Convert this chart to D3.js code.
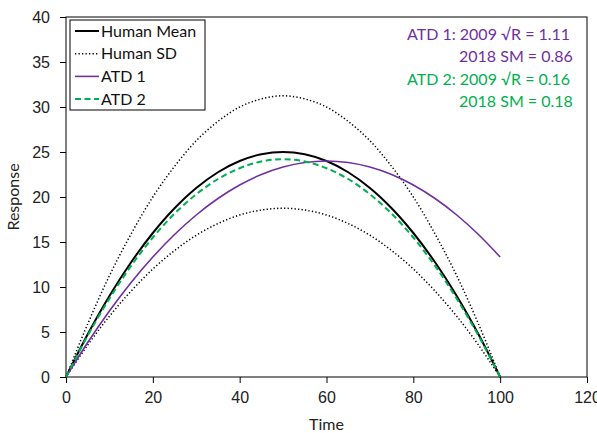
<!DOCTYPE html>
<html lang="en">
<head>
<meta charset="UTF-8">
<title>Response over time</title>
<script src="https://cdn.jsdelivr.net/npm/d3@7"></script>
<style>
  body { margin: 0; background: #fff; }
  svg { font-family: 'Lato', 'Open Sans', sans-serif; }
  .axis text { font-size: 16px; fill: #222; }
  .axis path, .axis line { stroke: #000; }
</style>
</head>
<body>
<svg id="chart" width="597" height="433"></svg>
<script>
  // values, every 5 time units
  var times = [0, 5, 10, 15, 20, 25, 30, 35, 40, 45, 50, 55, 60, 65, 70, 75, 80, 85, 90, 95, 100];
  var humanMean = [0, 4.75, 9, 12.75, 16, 18.75, 21, 22.75, 24, 24.75, 25, 24.75, 24, 22.75, 21, 18.75, 16, 12.75, 9, 4.75, 0];
  var humanSdUpper = [0, 5.9, 11.25, 15.9, 20, 23.4, 26.25, 28.4, 30, 30.9, 31.25, 30.9, 30, 28.4, 26.25, 23.4, 20, 15.9, 11.25, 5.9, 0];
  var humanSdLower = [0, 3.55, 6.75, 9.55, 12, 14.05, 15.75, 17.05, 18, 18.55, 18.75, 18.55, 18, 17.05, 15.75, 14.05, 12, 9.55, 6.75, 3.55, 0];
  var atd1 = [0, 3.83, 7.33, 10.5, 13.33, 15.83, 18, 19.83, 21.33, 22.5, 23.33, 23.83, 24, 23.83, 23.33, 22.5, 21.33, 19.83, 18, 15.83, 13.33];
  var atd2 = [0, 4.6, 8.7, 12.35, 15.5, 18.15, 20.3, 22, 23.2, 23.95, 24.2, 23.95, 23.2, 22, 20.3, 18.15, 15.5, 12.35, 8.7, 4.6, 0];

  var xTicks = [0, 20, 40, 60, 80, 100, 120];
  var yTicks = [0, 5, 10, 15, 20, 25, 30, 35, 40];
  var legendLabels = ["Human Mean", "Human SD", "ATD 1", "ATD 2"];
  var noteLines = [
    {text: "ATD 1: 2009 \u221AR = 1.11", series: "ATD 1", indent: false},
    {text: "2018 SM = 0.86", series: "ATD 1", indent: true},
    {text: "ATD 2: 2009 \u221AR = 0.16", series: "ATD 2", indent: false},
    {text: "2018 SM = 0.18", series: "ATD 2", indent: true}
  ];

  var PURPLE = "#7030A0";
  var GREEN = "#00B050";

  var margin = {top: 17, right: 10, bottom: 56, left: 66};
  var svg = d3.select("#chart");
  var width = 597 - margin.left - margin.right;
  var height = 433 - margin.top - margin.bottom;

  var x = d3.scaleLinear().domain([0, 120]).range([0, width]);
  var y = d3.scaleLinear().domain([0, 40]).range([height, 0]);

  var g = svg.append("g").attr("transform", "translate(" + margin.left + "," + margin.top + ")");

  // plot frame
  g.append("rect")
    .attr("x", 0).attr("y", 0)
    .attr("width", width).attr("height", height)
    .attr("fill", "none").attr("stroke", "#000").attr("stroke-width", 1);

  g.append("g").attr("class", "axis")
    .attr("transform", "translate(0," + height + ")")
    .call(d3.axisBottom(x).tickValues(xTicks).tickSize(6).tickPadding(9))
    .select(".domain").remove();

  g.append("g").attr("class", "axis")
    .call(d3.axisLeft(y).tickValues(yTicks).tickSize(6).tickPadding(10))
    .select(".domain").remove();

  g.append("text")
    .attr("x", x(60)).attr("y", height + 53)
    .attr("text-anchor", "middle")
    .style("font-size", "16px").attr("fill", "#222")
    .text("Time");

  g.append("text")
    .attr("transform", "translate(" + (-47) + "," + (height / 2) + ") rotate(-90)")
    .attr("text-anchor", "middle")
    .style("font-size", "16px").attr("fill", "#222")
    .text("Response");

  var series = [
    {name: "Human Mean", values: humanMean, color: "#000", width: 2, dash: null},
    {name: "Human SD", values: humanSdUpper, color: "#000", width: 1.5, dash: "1.3,2.2"},
    {name: "Human SD", values: humanSdLower, color: "#000", width: 1.5, dash: "1.3,2.2"},
    {name: "ATD 1", values: atd1, color: PURPLE, width: 1.6, dash: null},
    {name: "ATD 2", values: atd2, color: GREEN, width: 2, dash: "6,3.5"}
  ];

  var line = d3.line()
    .x(function (d) { return x(d[0]); })
    .y(function (d) { return y(d[1]); })
    .curve(d3.curveCatmullRom);

  g.selectAll("path.series")
    .data(series)
    .enter().append("path")
    .attr("class", "series")
    .attr("fill", "none")
    .attr("stroke", function (d) { return d.color; })
    .attr("stroke-width", function (d) { return d.width; })
    .attr("stroke-dasharray", function (d) { return d.dash; })
    .attr("d", function (d) {
      return line(times.map(function (t, i) { return [t, d.values[i]]; }));
    });

  // legend
  var legend = g.append("g").attr("transform", "translate(4,3)");
  legend.append("rect")
    .attr("width", 135).attr("height", 90)
    .attr("fill", "#fff").attr("stroke", "#000").attr("stroke-width", 1);

  var legendItems = legend.selectAll("g.item")
    .data(legendLabels)
    .enter().append("g")
    .attr("class", "item")
    .attr("transform", function (d, i) { return "translate(0," + (11 + i * 22.7) + ")"; });

  legendItems.append("line")
    .attr("x1", 5).attr("x2", 29)
    .attr("stroke", function (d) {
      return series.find(function (s) { return s.name === d; }).color;
    })
    .attr("stroke-width", function (d) {
      return series.find(function (s) { return s.name === d; }).width;
    })
    .attr("stroke-dasharray", function (d) {
      return series.find(function (s) { return s.name === d; }).dash;
    });

  legendItems.append("text")
    .attr("x", 31).attr("y", 5.5)
    .style("font-size", "16px").attr("fill", "#111")
    .text(function (d) { return d; });

  // fit notes
  g.selectAll("text.note")
    .data(noteLines)
    .enter().append("text")
    .attr("class", "note")
    .attr("x", function (d) { return d.indent ? 393 : 341; })
    .attr("y", function (d, i) { return 22.5 + i * 22.5; })
    .style("font-size", "16px")
    .attr("fill", function (d) { return d.series === "ATD 1" ? PURPLE : GREEN; })
    .text(function (d) { return d.text; });
</script>
</body>
</html>
